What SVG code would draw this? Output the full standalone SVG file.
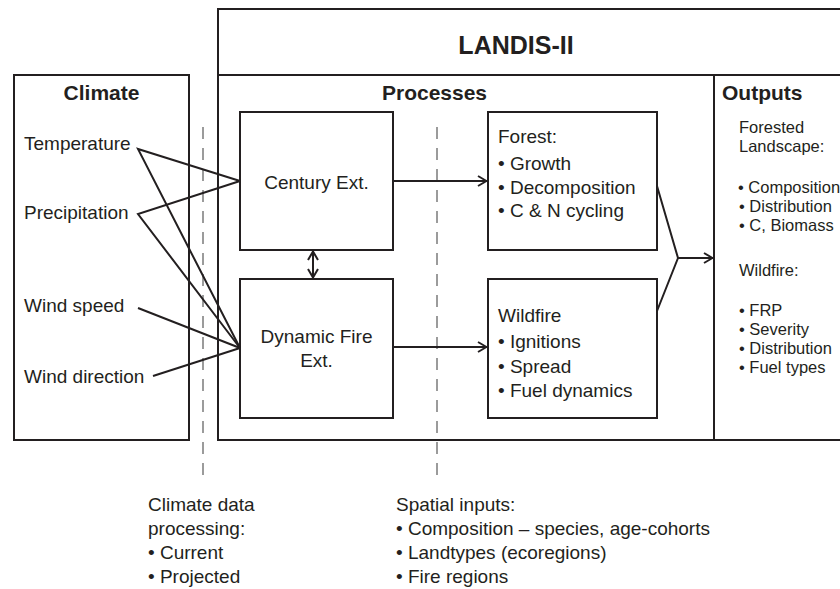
<svg xmlns="http://www.w3.org/2000/svg" width="840" height="589" viewBox="0 0 840 589">
<defs>
<style>
.box{fill:none;stroke:#231f20;stroke-width:2}
.ln{fill:none;stroke:#231f20;stroke-width:2}
.dash{fill:none;stroke:#9b9b9b;stroke-width:2;stroke-dasharray:12 9}
text{font-family:"Liberation Sans",Arial,sans-serif;fill:#231f20}
.t{font-size:19px}
.s{font-size:16.5px}
.h{font-size:21px;font-weight:bold}
.hh{font-size:25px;font-weight:bold}
.c{text-anchor:middle}
</style>
<marker id="ah" viewBox="0 0 10 12" refX="10" refY="6" markerWidth="10" markerHeight="12" orient="auto-start-reverse" markerUnits="userSpaceOnUse">
<path d="M1,1 L9.5,6 L1,11" fill="none" stroke="#231f20" stroke-width="2"/>
</marker>
</defs>
<rect width="840" height="589" fill="#ffffff"/>

<g id="dashed-lines">
<line class="dash" x1="203" y1="127" x2="203" y2="477"/>
<line class="dash" x1="437" y1="127" x2="437" y2="477"/>
</g>

<g id="landis">
<rect class="box" x="218" y="9" width="650" height="431"/>
<line class="ln" x1="218" y1="75" x2="840" y2="75"/>
<line class="ln" x1="714" y1="75" x2="714" y2="440"/>
<text class="hh c" x="516" y="54">LANDIS-II</text>
<text class="h c" x="434.5" y="100">Processes</text>
</g>

<g id="climate">
<rect class="box" x="14" y="75" width="175" height="365"/>
<text class="h c" x="101.5" y="100">Climate</text>
<text class="t" x="24" y="150">Temperature</text>
<text class="t" x="24" y="219">Precipitation</text>
<text class="t" x="24" y="312">Wind speed</text>
<text class="t" x="24" y="383">Wind direction</text>
</g>

<g id="century">
<rect class="box" x="240" y="112" width="153" height="138"/>
<text class="t c" x="316.5" y="189">Century Ext.</text>
</g>

<g id="dynamic-fire">
<rect class="box" x="240" y="279" width="153" height="139"/>
<text class="t c" x="316.5" y="343">Dynamic Fire</text>
<text class="t c" x="316.5" y="367">Ext.</text>
</g>

<g id="forest">
<rect class="box" x="488" y="112" width="169" height="138"/>
<text class="t" x="498" y="143">Forest:</text>
<text class="t" x="498" y="170">• Growth</text>
<text class="t" x="498" y="194">• Decomposition</text>
<text class="t" x="498" y="217">• C &amp; N cycling</text>
</g>

<g id="wildfire">
<rect class="box" x="488" y="279" width="169" height="139"/>
<text class="t" x="498" y="322">Wildfire</text>
<text class="t" x="498" y="348">• Ignitions</text>
<text class="t" x="498" y="373">• Spread</text>
<text class="t" x="498" y="397">• Fuel dynamics</text>
</g>

<g id="outputs">
<text class="h" x="722" y="100">Outputs</text>
<text class="s" x="739" y="133">Forested</text>
<text class="s" x="739" y="152">Landscape:</text>
<text class="s" x="738" y="193">• Composition</text>
<text class="s" x="739" y="212">• Distribution</text>
<text class="s" x="739" y="231">• C, Biomass</text>
<text class="s" x="739" y="276">Wildfire:</text>
<text class="s" x="739" y="316">• FRP</text>
<text class="s" x="739" y="335">• Severity</text>
<text class="s" x="739" y="354">• Distribution</text>
<text class="s" x="739" y="373">• Fuel types</text>
</g>

<g id="climate-processing">
<text class="t" x="148" y="511">Climate data</text>
<text class="t" x="148" y="535">processing:</text>
<text class="t" x="148" y="559">• Current</text>
<text class="t" x="148" y="583">• Projected</text>
</g>

<g id="spatial-inputs">
<text class="t" x="396" y="511">Spatial inputs:</text>
<text class="t" x="396" y="535">• Composition – species, age-cohorts</text>
<text class="t" x="396" y="559">• Landtypes (ecoregions)</text>
<text class="t" x="396" y="583">• Fire regions</text>
</g>

<g id="connectors">
<polyline class="ln" points="240,181 138,149 240,348"/>
<polyline class="ln" points="240,181 138,214 240,348"/>
<line class="ln" x1="138" y1="308" x2="240" y2="348"/>
<line class="ln" x1="153" y1="376" x2="240" y2="348"/>
<line class="ln" x1="393" y1="181" x2="487" y2="181" marker-end="url(#ah)"/>
<line class="ln" x1="393" y1="347" x2="487" y2="347" marker-end="url(#ah)"/>
<line class="ln" x1="313" y1="251" x2="313" y2="278" marker-start="url(#ah)" marker-end="url(#ah)"/>
<polyline class="ln" points="657,186 678,258 657,311"/>
<line class="ln" x1="678" y1="258" x2="713" y2="258" marker-end="url(#ah)"/>
</g>
</svg>
